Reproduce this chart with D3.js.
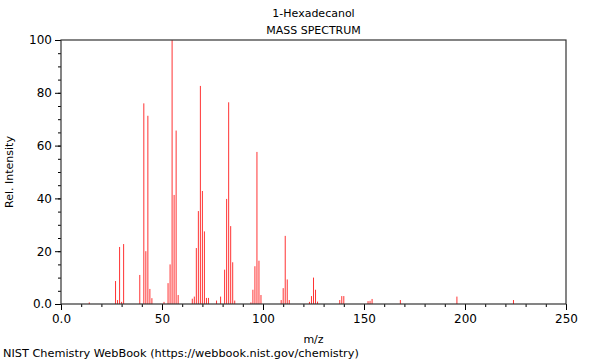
<!DOCTYPE html>
<html>
<head>
<meta charset="utf-8">
<script src="https://cdn.jsdelivr.net/npm/d3@7"></script>
<style>
  body { margin: 0; background: #fff; }
  text { font-family: "DejaVu Sans", sans-serif; fill: #000; }
</style>
</head>
<body>
<svg id="chart" width="600" height="360"></svg>
<script>
// m/z values and relative intensities
const mz = [14, 27, 28, 29, 30, 31, 39, 41, 42, 43, 44, 45, 51, 53, 54, 55, 56, 57, 58,
  65, 66, 67, 68, 69, 70, 71, 72, 73, 77, 79, 81, 82, 83, 84, 85, 86,
  94, 95, 96, 97, 98, 99, 109, 110, 111, 112, 113, 123, 124, 125, 126, 127,
  138, 139, 140, 152, 153, 154, 168, 196, 224];
const intensity = [0.6, 8.7, 1.5, 21.6, 0.8, 22.7, 11, 76, 20, 71.3, 5.7, 2.2, 0.8, 7.9, 15, 100, 41.3, 65.7, 3.4,
  2, 2.8, 21.2, 35.2, 82.6, 42.8, 27.5, 2.3, 2.3, 1.3, 2.8, 13, 39.8, 76.4, 29.5, 15.8, 1.3,
  0.6, 5.4, 14.3, 57.6, 16.4, 3.4, 1.5, 6, 25.8, 9.3, 1.5, 0.8, 3, 10, 5.4, 0.9,
  1.5, 3, 3, 1.1, 1.2, 1.9, 1.5, 2.8, 1.5];
const xTicks = [0, 50, 100, 150, 200, 250];
const yTicks = [0, 20, 40, 60, 80, 100];

const svg = d3.select('#chart');
const margin = { top: 40, right: 34, bottom: 56, left: 61 };
const width = 600 - margin.left - margin.right;
const height = 360 - margin.top - margin.bottom;

const x = d3.scaleLinear().domain([0, 250]).range([0, width]);
const y = d3.scaleLinear().domain([0, 100]).range([height, 0]);

const g = svg.append('g').attr('transform', `translate(${margin.left},${margin.top})`);

// peaks
g.selectAll('.peak')
  .data(mz.map((m, i) => ({ m, v: intensity[i] })))
  .enter().append('line')
  .attr('class', 'peak')
  .attr('x1', d => x(d.m)).attr('x2', d => x(d.m))
  .attr('y1', y(0)).attr('y2', d => y(d.v))
  .attr('stroke', '#ff3333')
  .attr('stroke-width', 1);

// minor ticks
g.append('g')
  .attr('transform', `translate(0,${height})`)
  .call(d3.axisBottom(x).tickValues(d3.range(0, 251, 10)).tickSize(3).tickFormat(''))
  .call(a => a.select('.domain').remove());
g.append('g')
  .call(d3.axisLeft(y).tickValues(d3.range(0, 101, 5)).tickSize(3).tickFormat(''))
  .call(a => a.select('.domain').remove());

// major ticks + labels
const xAxis = g.append('g')
  .attr('transform', `translate(0,${height})`)
  .call(d3.axisBottom(x).tickValues(xTicks).tickSize(6).tickPadding(4)
    .tickFormat(d => d === 0 ? '0.0' : d));
const yAxis = g.append('g')
  .call(d3.axisLeft(y).tickValues(yTicks).tickSize(6).tickPadding(3)
    .tickFormat(d => d === 0 ? '0.0' : d));
[xAxis, yAxis].forEach(a => {
  a.selectAll('text').style('font-size', '12px');
  a.select('.domain').remove();
});
svg.selectAll('.tick line').attr('stroke', '#000');

// frame
g.append('rect')
  .attr('width', width).attr('height', height)
  .attr('fill', 'none').attr('stroke', '#333').attr('stroke-width', 1.2);

// titles
svg.append('text').attr('x', margin.left + width / 2).attr('y', 17)
  .attr('text-anchor', 'middle').style('font-size', '11px').text('1-Hexadecanol');
svg.append('text').attr('x', margin.left + width / 2).attr('y', 34)
  .attr('text-anchor', 'middle').style('font-size', '11px').text('MASS SPECTRUM');
svg.append('text').attr('x', margin.left + width / 2).attr('y', 343)
  .attr('text-anchor', 'middle').style('font-size', '11px').text('m/z');
svg.append('text')
  .attr('transform', `translate(13,${margin.top + height / 2}) rotate(-90)`)
  .attr('text-anchor', 'middle').style('font-size', '11px').text('Rel. Intensity');
svg.append('text').attr('x', 3).attr('y', 357)
  .style('font-size', '11.3px').text('NIST Chemistry WebBook (https://webbook.nist.gov/chemistry)');
</script>
</body>
</html>
